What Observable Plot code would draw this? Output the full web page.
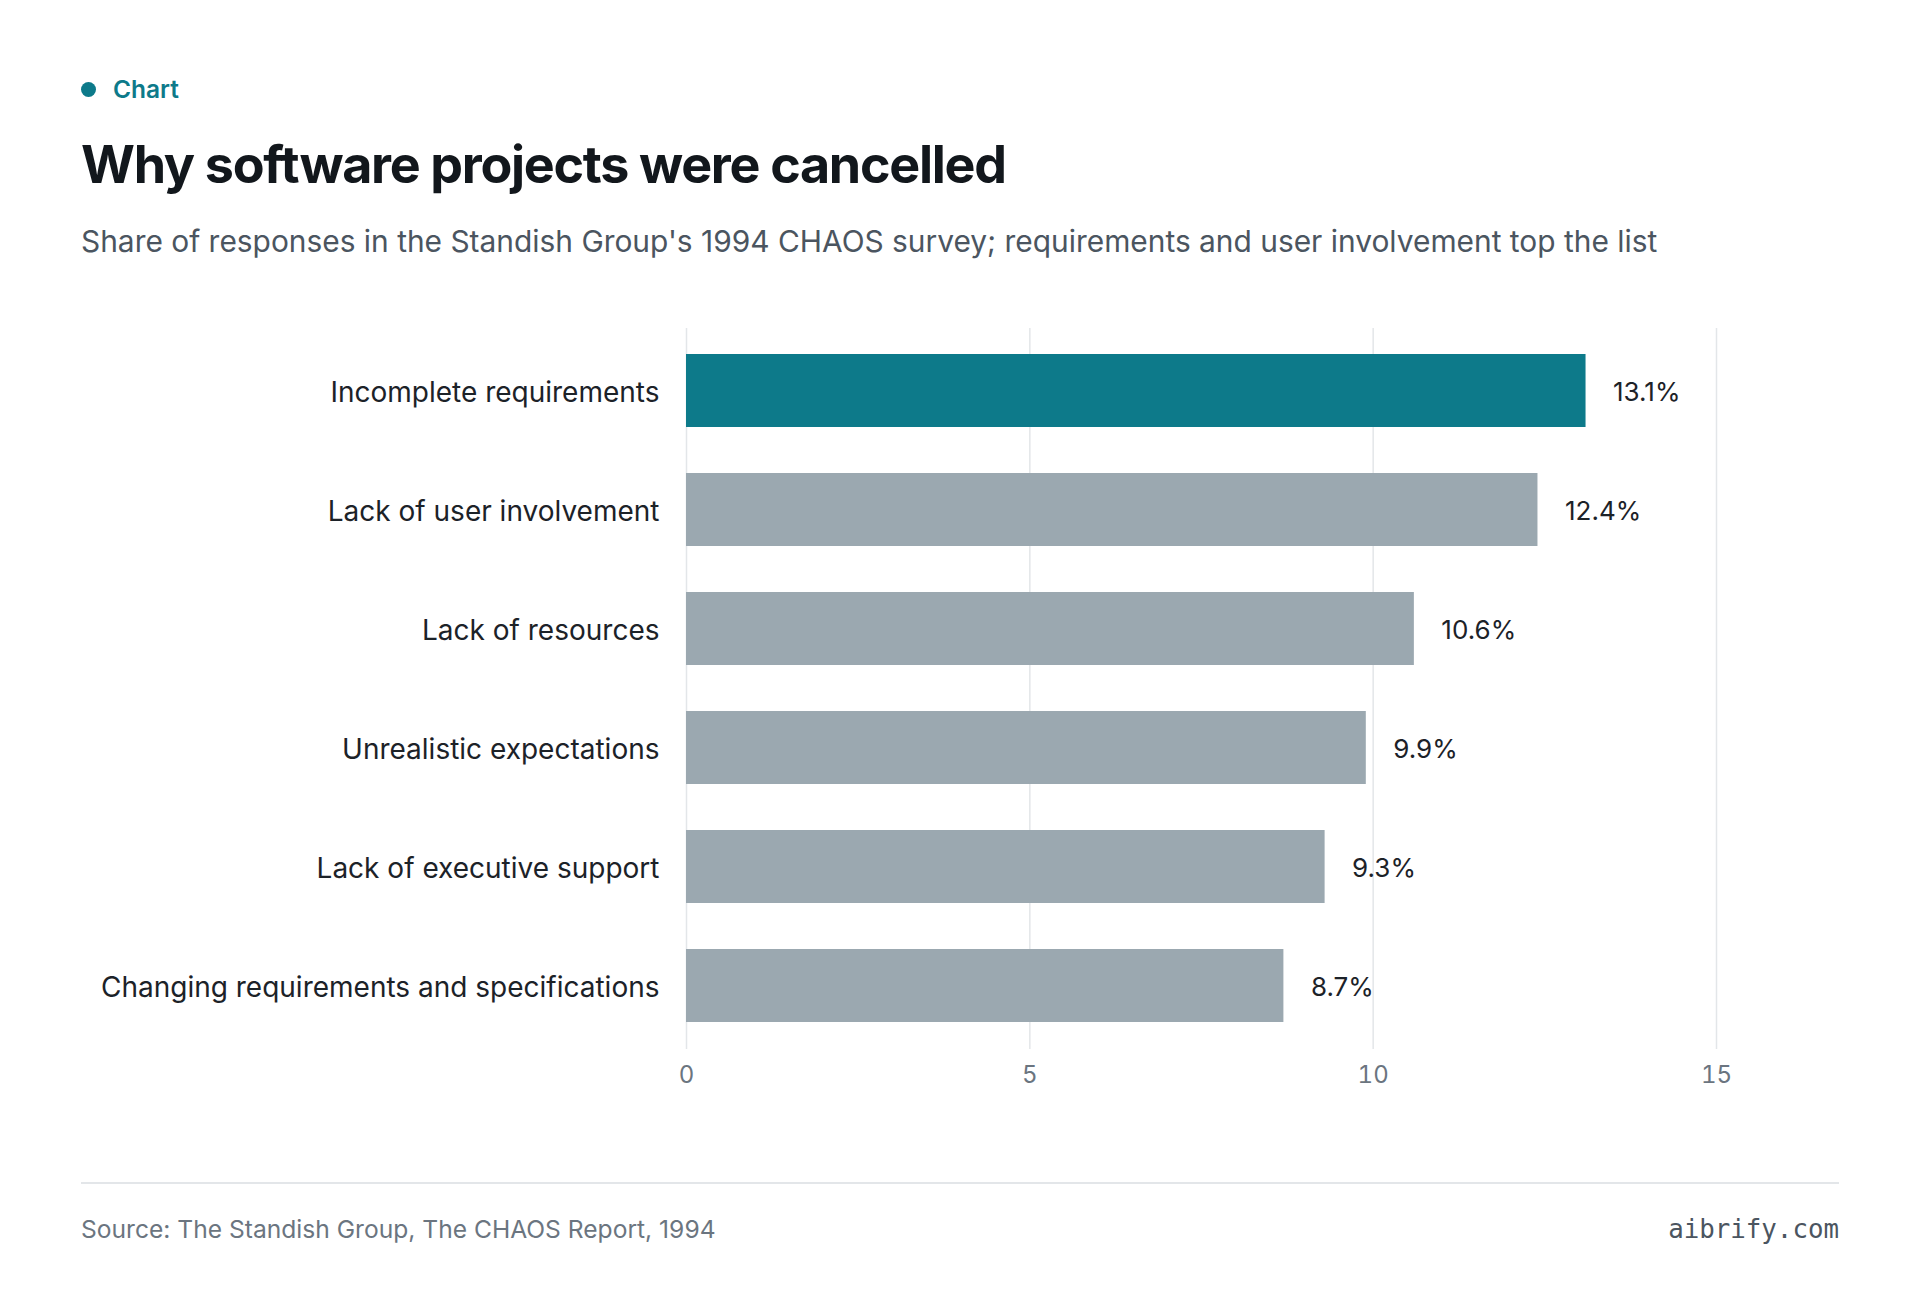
<!DOCTYPE html>
<html>
<head>
<meta charset="utf-8">
<script src="https://cdn.jsdelivr.net/npm/d3@7"></script>
<script src="https://cdn.jsdelivr.net/npm/@observablehq/plot@0.6"></script>
<style>
  html, body { margin: 0; padding: 0; background: #ffffff; }
  body { width: 1920px; height: 1308px; position: relative; font-family: Inter, "Noto Sans", sans-serif; overflow: hidden; }
  .abs { position: absolute; white-space: nowrap; }
  #kicker { left: 81px; top: 74px; height: 30px; line-height: 30px; font-size: 24.5px; font-weight: 600; color: #0d7a8a; display: flex; align-items: center; }
  #kicker .dot { width: 15px; height: 15px; border-radius: 50%; background: #0d7a8a; margin-right: 17px; }
  #title { left: 81px; top: 130px; font-size: 52px; line-height: 70px; font-weight: 700; color: #12171c; letter-spacing: -0.025em; }
  #subtitle { left: 81px; top: 222px; font-size: 29.9px; line-height: 38px; color: #4b5560; }
  #chart { left: 81px; top: 308px; }
  #rule { left: 81px; top: 1182px; width: 1758px; height: 2px; background: #e3e6e9; }
  #source { left: 81px; top: 1214px; font-size: 24.6px; line-height: 30px; color: #6b7580; }
  #brand { right: 81px; top: 1214px; font-size: 25.8px; line-height: 30px; color: #4b5560; font-family: "DejaVu Sans Mono", "Liberation Mono", monospace; }
</style>
</head>
<body>
<div id="kicker" class="abs"><span class="dot"></span>Chart</div>
<div id="title" class="abs">Why software projects were cancelled</div>
<div id="subtitle" class="abs">Share of responses in the Standish Group's 1994 CHAOS survey; requirements and user involvement top the list</div>
<div id="chart" class="abs"></div>
<div id="rule" class="abs"></div>
<div id="source" class="abs">Source: The Standish Group, The CHAOS Report, 1994</div>
<div id="brand" class="abs">aibrify.com</div>
<script>
const categories = [
  "Incomplete requirements",
  "Lack of user involvement",
  "Lack of resources",
  "Unrealistic expectations",
  "Lack of executive support",
  "Changing requirements and specifications"
];
const values = [13.1, 12.4, 10.6, 9.9, 9.3, 8.7];
const highlighted = ["Incomplete requirements"];
const xTicks = [0, 5, 10, 15];

const data = categories.map((c, i) => ({ category: c, value: values[i], hi: highlighted.includes(c) }));

const chart = Plot.plot({
  width: 1758,
  height: 801,
  marginLeft: 605,
  marginRight: 123,
  marginTop: 20,
  marginBottom: 60,
  style: { fontFamily: "Inter, 'Noto Sans', sans-serif", background: "transparent" },
  x: { domain: [0, 15], ticks: xTicks, label: null },
  y: { domain: categories, paddingInner: 0.385, paddingOuter: 0.2, label: null },
  marks: [
    Plot.gridX(xTicks, { stroke: "#e3e6e9", strokeOpacity: 1, strokeWidth: 1.5 }),
    Plot.barX(data, { y: "category", x: "value", fill: d => d.hi ? "#0d7a8a" : "#9ba8b0" }),
    Plot.text(data, { y: "category", x: "value", text: d => d.value.toFixed(1) + "%", textAnchor: "start", dx: 27, dy: 2, fontSize: 26, fill: "#1c2228" }),
    Plot.axisY({ tickSize: 0, tickPadding: 27, fontSize: 28, dy: 2, color: "#1c2228", label: null }),
    Plot.axisX({ ticks: xTicks, tickSize: 0, tickPadding: 16, fontSize: 24, color: "#6b7580", label: null })
  ]
});
document.getElementById("chart").appendChild(chart);
</script>
</body>
</html>
